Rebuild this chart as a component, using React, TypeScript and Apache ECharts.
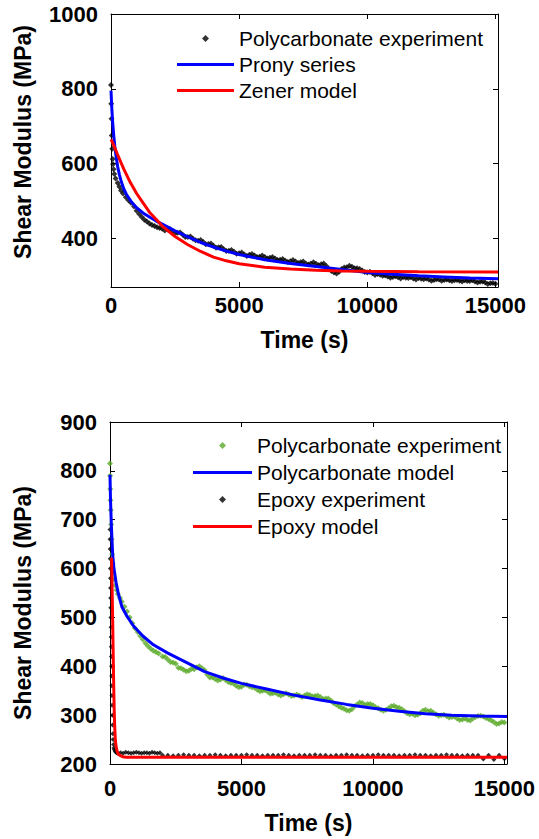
import React, { useEffect, useRef } from "react";
import * as echarts from "echarts";

// ---------- shared ----------
const FONT = "'Liberation Sans', Arial, Helvetica, sans-serif";
const yTitle = "Shear Modulus (MPa)";
const timeTicks = [0, 5000, 10000, 15000];
const lateTimes = [
  2000, 2200, 2400, 2600, 2800, 3000, 3200, 3400, 3600, 3800, 4000, 4200, 4400, 4600, 4800,
  5000, 5200, 5400, 5600, 5800, 6000, 6200, 6400, 6600, 6800, 7000, 7200, 7400, 7600, 7800,
  8000, 8200, 8400, 8600, 8800, 9000, 9200, 9400, 9600, 9800, 10000, 10200, 10400, 10600,
  10800, 11000, 11200, 11400, 11600, 11800, 12000, 12200, 12400, 12600, 12800, 13000, 13200,
  13400, 13600, 13800, 14000, 14200, 14400, 14600, 14800, 15000,
];
const lateTimesOdd = [
  2100, 2300, 2500, 2700, 2900, 3100, 3300, 3500, 3700, 3900, 4100, 4300, 4500, 4700, 4900,
  5100, 5300, 5500, 5700, 5900, 6100, 6300, 6500, 6700, 6900, 7100, 7300, 7500, 7700, 7900,
  8100, 8300, 8500, 8700, 8900, 9100, 9300, 9500, 9700, 9900, 10100, 10300, 10500, 10700,
  10900, 11100, 11300, 11500, 11700, 11900, 12100, 12300, 12500, 12700, 12900, 13100, 13300,
  13500, 13700, 13900, 14100, 14300, 14500, 14700, 14900,
];

// ---------- top chart data ----------
const topYTicks = [400, 600, 800, 1000];
const topExpEarlyTimes = [0, 10, 20, 30, 50, 65, 80, 100, 130, 180, 260, 330, 390, 470, 580, 680, 780, 900, 1000, 1100, 1200, 1300, 1400, 1500, 1600, 1700, 1800, 1900];
const topExpEarlyValues = [810, 760, 720, 675, 640, 612, 598, 585, 572, 560, 548, 538, 528, 520, 510, 502, 495, 485, 474, 465, 457, 450, 445, 440, 436, 433, 430, 428];
const topExpLateValues = [
  426, 424, 420, 415, 410, 404, 399, 394, 390, 385, 380, 376, 371, 367, 364, 360, 357, 356, 354, 351,
  350, 348, 346, 343, 340, 339, 338, 336, 333, 333, 332, 331, 326, 313, 306, 318, 323, 324, 320, 314,
  309, 307, 305, 300, 298, 297, 296, 297, 294, 293, 294, 291, 290, 289, 290, 289, 288, 288, 287, 288,
  286, 285, 284, 282, 280, 279,
];
const topExpOddValues = [
  421, 425, 414, 416, 404, 405, 395, 396, 384, 386, 375, 377, 366, 369, 359, 362, 353, 358, 350, 354,
  346, 350, 342, 345, 337, 342, 334, 338, 330, 336, 328, 333, 318, 309, 311, 322, 327, 320, 318, 310,
  311, 302, 303, 301, 295, 299, 293, 295, 296, 290, 292, 293, 287, 291, 287, 290, 286, 289, 285, 286,
  288, 282, 285, 278, 281,
];
const pronyTimes = [0, 30, 60, 100, 150, 200, 260, 330, 400, 500, 600, 800, 1000, 1250, 1500, 1750, 2000, 2500, 3000, 3500, 4000, 4500, 5000, 6000, 7000, 8000, 9000, 10000, 11000, 12000, 13000, 14000, 15100];
const pronyValues = [795, 750, 715, 680, 645, 618, 592, 570, 552, 532, 518, 497, 482, 468, 457, 447, 438, 420, 404, 389, 377, 366, 357, 343, 333, 325, 317, 309, 304, 300, 297, 294, 292];
const zenerTimes = [0, 100, 250, 500, 750, 1000, 1250, 1500, 1750, 2000, 2500, 3000, 3500, 4000, 4500, 5000, 6000, 7000, 8000, 9000, 10000, 12000, 15100];
const zenerValues = [665, 650, 625, 585, 550, 520, 495, 470, 452, 433, 405, 383, 365, 350, 340, 332, 323, 318, 315, 313, 312, 311, 310];

// ---------- bottom chart data ----------
const bottomYTicks = [200, 300, 400, 500, 600, 700, 800, 900];
const pcExpEarlyTimes = [0, 5, 10, 20, 30, 45, 60, 80, 100, 130, 160, 200, 250, 300, 380, 450, 550, 650, 750, 850, 950, 1050, 1150, 1250, 1350, 1450, 1550, 1650, 1750, 1850];
const pcExpEarlyValues = [815, 790, 763, 740, 720, 690, 660, 630, 610, 592, 578, 566, 556, 548, 540, 532, 522, 512, 500, 488, 478, 470, 462, 455, 447, 441, 436, 432, 429, 426];
const pcExpLateValues = [
  420, 414, 408, 397, 393, 391, 394, 400, 392, 377, 374, 373, 372, 366, 360, 358, 362, 357, 352, 350,
  348, 345, 342, 343, 342, 340, 340, 340, 341, 339, 337, 334, 330, 322, 315, 310, 312, 322, 325, 323,
  320, 314, 309, 314, 319, 315, 308, 302, 300, 304, 311, 309, 302, 300, 298, 296, 293, 291, 290, 293,
  298, 297, 292, 286, 283, 285,
];
const pcExpOddValues = [
  419, 409, 405, 396, 390, 395, 398, 396, 383, 377, 371, 376, 368, 365, 357, 362, 359, 356, 349, 351,
  344, 346, 340, 345, 339, 342, 337, 343, 338, 340, 333, 334, 325, 318, 313, 309, 318, 326, 321, 323,
  316, 311, 311, 318, 316, 312, 304, 303, 301, 309, 308, 305, 299, 301, 295, 297, 290, 293, 289, 296,
  299, 294, 289, 282, 286,
];
const pcModelTimes = [0, 20, 50, 100, 150, 230, 320, 450, 650, 900, 1250, 1650, 2200, 2900, 3600, 4300, 5000, 6000, 7000, 8000, 9000, 10000, 11000, 12000, 13000, 14000, 15100];
const pcModelValues = [792, 740, 690, 630, 600, 572, 548, 522, 502, 482, 462, 444, 427, 408, 389, 376, 365, 353, 341, 331, 322, 314, 308, 303, 300, 298, 297];
const epoxyExpEarlyTimes = [0, 3, 6, 10, 14, 18, 22, 26, 30, 35, 40, 45, 50, 55, 60, 65, 70, 75, 80, 90, 100, 110, 120, 135, 150, 170, 200, 230, 260, 300];
const epoxyExpEarlyValues = [680, 660, 640, 620, 600, 580, 560, 540, 520, 500, 480, 460, 440, 420, 400, 380, 360, 340, 320, 300, 280, 262, 250, 240, 233, 229, 226, 224, 223, 222];
const epoxyExpMidTimes = [400, 500, 600, 700, 800, 900, 1000, 1100, 1200, 1300, 1400, 1500, 1600, 1700, 1800, 1900];
const epoxyExpMidValues = [223, 222, 224, 223, 222, 223, 224, 223, 222, 223, 223, 222, 224, 223, 222, 223];
const epoxyExpLateValues = [
  218, 218, 217, 218, 219, 218, 218, 217, 218, 218, 219, 218, 217, 218, 218, 218, 219, 218, 218, 217,
  218, 218, 218, 219, 218, 217, 218, 218, 218, 219, 218, 218, 217, 218, 218, 219, 218, 218, 217, 218,
  218, 219, 218, 218, 218, 217, 218, 218, 219, 218, 218, 217, 218, 218, 219, 218, 218, 217, 218, 218,
  218, 210, 218, 209, 218, 211,
];
const epoxyModelTimes = [60, 80, 100, 115, 130, 145, 160, 180, 200, 230, 270, 320, 390, 480, 620, 1000, 15100];
const epoxyModelValues = [622, 560, 500, 445, 395, 350, 310, 275, 252, 236, 226, 220, 217, 215, 214, 214, 214];

const zip = (t: number[], v: number[]) => t.map((x, i) => [x, v[i]]);

const DIAMOND_ICON = "path://M3,0L6,3L3,6L0,3Z";
const lineIcon = (w: number) => `path://M0,0L${w},0L${w},3L0,3Z`;

function yTitleGraphic(x: number, y: number) {
  return [
    {
      type: "text",
      x,
      y,
      rotation: Math.PI / 2,
      style: {
        text: yTitle,
        fill: "#000",
        font: `bold 23px ${FONT}`,
        align: "center",
        verticalAlign: "middle",
      },
    },
  ];
}

function axesFor(yMin: number, yMax: number, yTicks: number[], xLabelMargin: number, xNameGap: number) {
  const axisLine = { show: true, onZero: false, lineStyle: { color: "#000", width: 1 } };
  const tick = (vals: number[]) => ({
    show: true,
    inside: true,
    length: 5,
    customValues: vals,
    lineStyle: { color: "#000", width: 1 },
  });
  const labelStyle = {
    color: "#000",
    fontSize: 22,
    fontWeight: "bold" as const,
    fontFamily: FONT,
    formatter: (v: number) => String(v),
  };
  return {
    xAxis: [
      {
        type: "value",
        min: 0,
        max: 15100,
        position: "bottom",
        axisLine,
        axisTick: tick(timeTicks),
        splitLine: { show: false },
        axisLabel: { ...labelStyle, customValues: timeTicks, margin: xLabelMargin },
        name: "Time (s)",
        nameLocation: "middle",
        nameGap: xNameGap,
        nameTextStyle: { color: "#000", fontSize: 23, fontWeight: "bold", fontFamily: FONT },
      },
      {
        type: "value",
        min: 0,
        max: 15100,
        position: "top",
        axisLine,
        axisTick: tick(timeTicks),
        splitLine: { show: false },
        axisLabel: { show: false },
      },
    ],
    yAxis: [
      {
        type: "value",
        min: yMin,
        max: yMax,
        position: "left",
        axisLine,
        axisTick: tick(yTicks),
        splitLine: { show: false },
        axisLabel: { ...labelStyle, customValues: yTicks, margin: 13 },
      },
      {
        type: "value",
        min: yMin,
        max: yMax,
        position: "right",
        axisLine,
        axisTick: tick(yTicks),
        splitLine: { show: false },
        axisLabel: { show: false },
      },
    ],
  };
}

function topOption() {
  return {
    animation: false,
    backgroundColor: "#fff",
    grid: { left: 111, top: 14, width: 387, height: 273 },
    ...axesFor(270, 1000, topYTicks, 7, 41),
    graphic: yTitleGraphic(23, 142),
    legend: {
      orient: "vertical",
      left: 172,
      top: 23,
      itemWidth: 57,
      itemHeight: 7,
      itemGap: 5,
      selectedMode: false,
      symbolKeepAspect: true,
      textStyle: { color: "#000", fontSize: 21, fontFamily: FONT },
      data: [
        { name: "Polycarbonate experiment", icon: DIAMOND_ICON },
        { name: "Prony series", icon: lineIcon(57) },
        { name: "Zener model", icon: lineIcon(57) },
      ],
    },
    series: [
      {
        name: "Polycarbonate experiment",
        type: "scatter",
        symbol: "diamond",
        symbolSize: 6,
        itemStyle: { color: "#000" },
        data: zip(
          topExpEarlyTimes.concat(lateTimes, lateTimesOdd),
          topExpEarlyValues.concat(topExpLateValues, topExpOddValues)
        ),
      },
      {
        name: "Prony series",
        type: "line",
        symbol: "none",
        lineStyle: { color: "#0000ff", width: 3 },
        itemStyle: { color: "#0000ff" },
        data: zip(pronyTimes, pronyValues),
      },
      {
        name: "Zener model",
        type: "line",
        symbol: "none",
        lineStyle: { color: "#ff0000", width: 3 },
        itemStyle: { color: "#ff0000" },
        data: zip(zenerTimes, zenerValues),
      },
    ],
  };
}

function bottomOption() {
  return {
    animation: false,
    backgroundColor: "#fff",
    grid: { left: 110, top: 22, width: 397, height: 349 },
    ...axesFor(200, 900, bottomYTicks, 13, 47),
    graphic: yTitleGraphic(23, 203),
    legend: {
      orient: "vertical",
      left: 188,
      top: 30,
      itemWidth: 59,
      itemHeight: 7,
      itemGap: 6,
      selectedMode: false,
      symbolKeepAspect: true,
      textStyle: { color: "#000", fontSize: 21, fontFamily: FONT },
      data: [
        { name: "Polycarbonate experiment", icon: DIAMOND_ICON },
        { name: "Polycarbonate model", icon: lineIcon(59) },
        { name: "Epoxy experiment", icon: DIAMOND_ICON },
        { name: "Epoxy model", icon: lineIcon(59) },
      ],
    },
    series: [
      {
        name: "Polycarbonate experiment",
        type: "scatter",
        symbol: "diamond",
        symbolSize: 6,
        itemStyle: { color: "#5aaa28" },
        data: zip(
          pcExpEarlyTimes.concat(lateTimes, lateTimesOdd),
          pcExpEarlyValues.concat(pcExpLateValues, pcExpOddValues)
        ),
      },
      {
        name: "Polycarbonate model",
        type: "line",
        symbol: "none",
        lineStyle: { color: "#0000ff", width: 3 },
        itemStyle: { color: "#0000ff" },
        data: zip(pcModelTimes, pcModelValues),
      },
      {
        name: "Epoxy experiment",
        type: "scatter",
        symbol: "diamond",
        symbolSize: 5,
        itemStyle: { color: "#000" },
        data: zip(
          epoxyExpEarlyTimes.concat(epoxyExpMidTimes, lateTimes),
          epoxyExpEarlyValues.concat(epoxyExpMidValues, epoxyExpLateValues)
        ),
      },
      {
        name: "Epoxy model",
        type: "line",
        symbol: "none",
        lineStyle: { color: "#ff0000", width: 3 },
        itemStyle: { color: "#ff0000" },
        data: zip(epoxyModelTimes, epoxyModelValues),
      },
    ],
  };
}

function Chart({ option, height }: { option: any; height: number }) {
  const ref = useRef<HTMLDivElement>(null);
  useEffect(() => {
    if (!ref.current) return;
    const chart = echarts.init(ref.current, undefined, { renderer: "svg" });
    chart.setOption(option);
    return () => chart.dispose();
  }, [option]);
  return <div ref={ref} style={{ width: 539, height }} />;
}

const topOpt = topOption();
const bottomOpt = bottomOption();

export default function App() {
  return (
    <div style={{ position: "absolute", left: 0, top: 0, width: 539, height: 839, background: "#fff" }}>
      <Chart option={topOpt} height={400} />
      <Chart option={bottomOpt} height={439} />
    </div>
  );
}
